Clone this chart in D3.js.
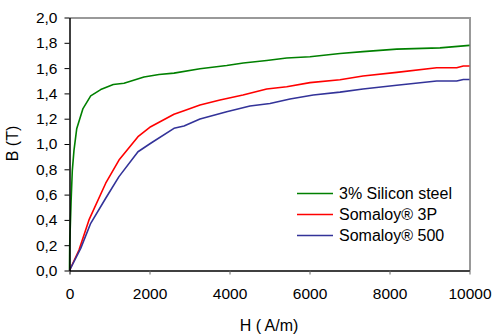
<!DOCTYPE html>
<html><head><meta charset="utf-8">
<script src="https://cdn.jsdelivr.net/npm/d3@7"></script>
<style>body{margin:0;background:#fff}svg{display:block;font-family:"Liberation Sans",Arial,sans-serif}</style>
</head><body><svg id="c" width="492" height="334"></svg>
<script>
const seriesNames = ["3% Silicon steel", "Somaloy® 3P", "Somaloy® 500"];
const seriesColors = ["#008000", "#ff0000", "#333399"];
const siliconH = [0, 5, 40, 70, 112, 180, 337, 530, 780, 1095, 1362, 1862, 2237, 2612, 3262, 3930, 4345, 4930, 5430, 6012, 6762, 7337, 8180, 9262, 10000];
const siliconB = [0, 0.2, 0.55, 0.79, 0.95, 1.12, 1.28, 1.38, 1.43, 1.47, 1.48, 1.53, 1.55, 1.56, 1.595, 1.62, 1.64, 1.66, 1.68, 1.69, 1.715, 1.73, 1.75, 1.76, 1.78];
const s3pH = [0, 237, 487, 905, 1237, 1712, 2030, 2612, 2862, 3262, 3762, 4337, 4930, 5430, 6012, 6762, 7337, 8180, 9180, 9680, 9845, 10000];
const s3pB = [0, 0.162, 0.40, 0.69, 0.873, 1.058, 1.137, 1.235, 1.263, 1.308, 1.348, 1.387, 1.435, 1.453, 1.485, 1.508, 1.537, 1.566, 1.603, 1.603, 1.617, 1.617];
const s500H = [0, 280, 530, 905, 1237, 1712, 2030, 2612, 2862, 3262, 3930, 4512, 5012, 5512, 6095, 6762, 7337, 8180, 9180, 9680, 9845, 10000];
const s500B = [0, 0.175, 0.373, 0.571, 0.742, 0.939, 1.006, 1.124, 1.142, 1.197, 1.255, 1.30, 1.32, 1.356, 1.387, 1.41, 1.435, 1.464, 1.498, 1.498, 1.51, 1.51];
const xTicks = [0, 2000, 4000, 6000, 8000, 10000];
const yTicks = [0, 0.2, 0.4, 0.6, 0.8, 1.0, 1.2, 1.4, 1.6, 1.8, 2.0];
const xTitle = "H ( A/m)";
const yTitle = "B (T)";

const svg = d3.select("#c");
const L = 69.5, R = 469.5, T = 17.5, B = 270.5;
const x = d3.scaleLinear().domain([0, 10000]).range([L, R]);
const y = d3.scaleLinear().domain([0, 2]).range([B, T]);
const fmtY = d => d3.format(".1f")(d).replace(".", ",");

svg.append("line").attr("x1", L).attr("x2", R + 1.5).attr("y1", T + 0.5).attr("y2", T + 0.5).attr("stroke", "#999").attr("stroke-width", 2);
svg.append("line").attr("x1", R + 0.5).attr("x2", R + 0.5).attr("y1", T).attr("y2", B).attr("stroke", "#999").attr("stroke-width", 2);

const series = [
  {H: siliconH, B: siliconB},
  {H: s3pH, B: s3pB},
  {H: s500H, B: s500B}
];
const line = d3.line().x(d => x(d[0])).y(d => y(d[1]));
series.forEach((s, i) => {
  const pts = s.H.map((h, k) => [h, s.B[k]]);
  svg.append("path").datum(pts).attr("d", line).attr("fill", "none")
    .attr("stroke", seriesColors[i]).attr("stroke-width", 1.6).attr("stroke-linejoin", "round");
});

const xAxis = svg.append("g").attr("transform", `translate(0,${B})`)
  .call(d3.axisBottom(x).tickValues(xTicks).tickFormat(d3.format("d")).tickSizeOuter(0).tickSizeInner(4).tickPadding(13));
const yAxis = svg.append("g").attr("transform", `translate(${L},0)`)
  .call(d3.axisLeft(y).tickValues(yTicks).tickFormat(fmtY).tickSizeOuter(0).tickSizeInner(5).tickPadding(7));
[xAxis, yAxis].forEach(g => {
  g.select(".domain").attr("stroke", "#000").attr("stroke-width", 1.5);
  g.selectAll(".tick line").attr("stroke", "#000");
  g.selectAll(".tick text").attr("font-size", 15.5).attr("fill", "#000").attr("font-family", "Liberation Sans, Arial, sans-serif");
});
xAxis.selectAll(".tick line").attr("stroke", (d, i) => (i === 0 ? "#000" : "#666"));

svg.append("text").attr("x", 269).attr("y", 331).attr("text-anchor", "middle")
  .attr("font-size", 16).text(xTitle);
svg.append("text").attr("transform", `translate(18,143.5) rotate(-90)`)
  .attr("text-anchor", "middle").attr("font-size", 16).text(yTitle);

const leg = svg.append("g");
seriesNames.forEach((n, i) => {
  const yy = 193.5 + i * 21;
  leg.append("line").attr("x1", 297).attr("x2", 333).attr("y1", yy).attr("y2", yy)
    .attr("stroke", seriesColors[i]).attr("stroke-width", 1.5);
  leg.append("text").attr("x", 339).attr("y", yy + 5.5).attr("font-size", 16).text(n);
});
</script></body></html>
